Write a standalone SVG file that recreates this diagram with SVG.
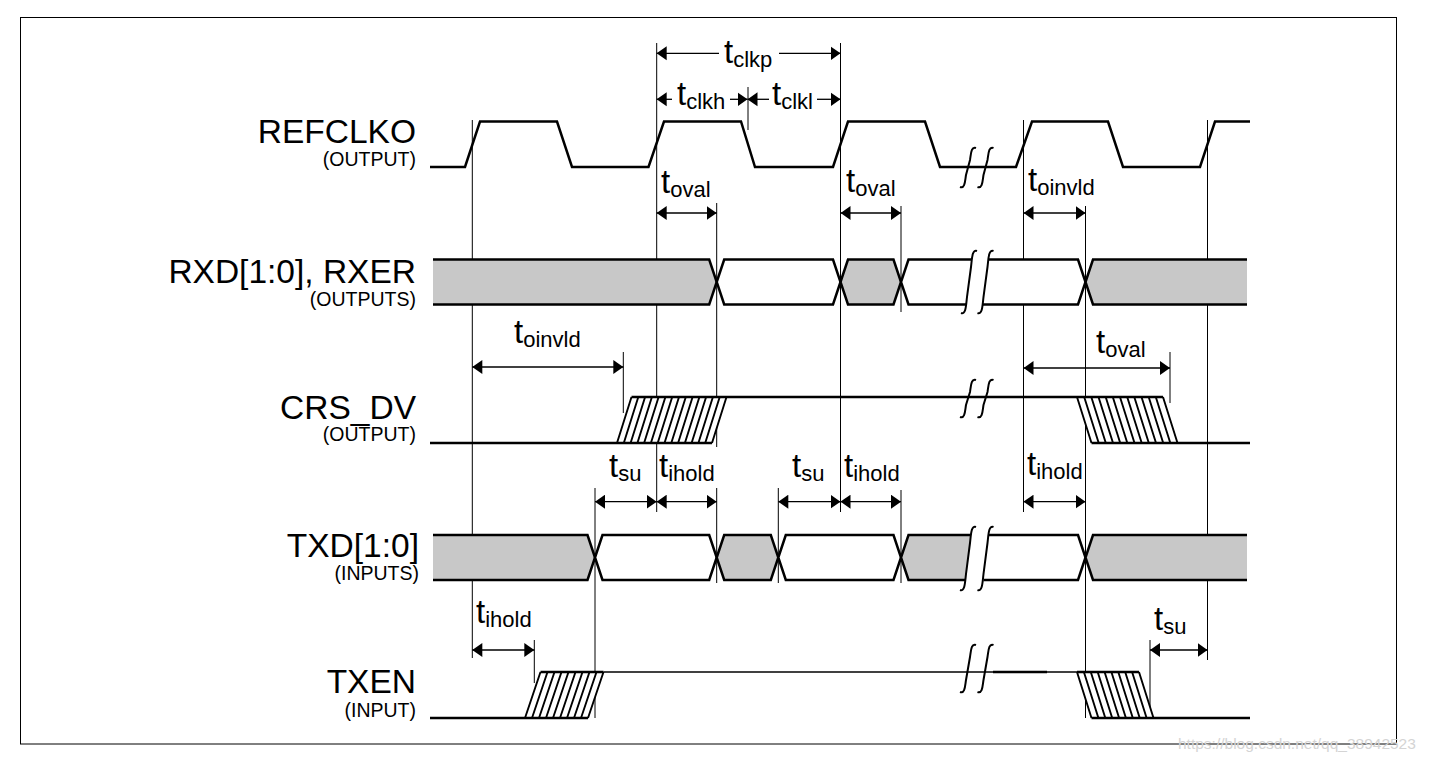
<svg xmlns="http://www.w3.org/2000/svg" width="1430" height="762" viewBox="0 0 1430 762">
<style>
text{font-family:"Liberation Sans",Arial,sans-serif;fill:#000}
.lbl{font-size:33.5px;text-anchor:end}
.dir{font-size:19.5px;text-anchor:end}
.t{font-size:33px}
.sub{font-size:22px}
.vl{stroke:#000;stroke-width:1;fill:none}
.sig{stroke:#000;stroke-width:2.5;fill:none}
.thin{stroke:#000;stroke-width:1.6;fill:none}
.brk{stroke:#000;stroke-width:2;fill:none}
.hat{stroke:#000;stroke-width:1.9;fill:none}
.bg{fill:#c8c8c8;stroke:#000;stroke-width:2.5}
.bw{fill:#fff;stroke:#000;stroke-width:2.5}
.arr{stroke:#000;stroke-width:1.3;fill:none}
.a2{stroke:#000;stroke-width:1.3;fill:none;marker-start:url(#as);marker-end:url(#ae)}
.wm{font-size:15.5px;fill:#d4d4d4}
</style>
<defs>
<marker id="ae" markerUnits="userSpaceOnUse" markerWidth="11" markerHeight="15" refX="10" refY="7" orient="auto"><path d="M0,0 L10,7 L0,14 Z" fill="#000"/></marker>
<marker id="as" markerUnits="userSpaceOnUse" markerWidth="11" markerHeight="15" refX="0" refY="7" orient="auto"><path d="M10,0 L0,7 L10,14 Z" fill="#000"/></marker>
</defs>
<rect x="0" y="0" width="1430" height="762" fill="#fff"/>
<rect id="frame" x="20.5" y="17.5" width="1376" height="726.5" fill="none" stroke="#000" stroke-width="1"/>

<g id="reference-lines">
<path class="vl" d="M472.3,120V658 M656.7,43V512 M748,87V130 M840.5,43V512 M716.7,203V447 M716.7,488V583 M901,206V312 M901,490V583 M1023.5,120V512 M1085.5,206V718 M1207.5,120V660 M595,488V718 M778.3,488V583 M623.3,352V413 M1170,352V403 M534.3,640V683 M1150,640V717"/>
</g>

<g id="refclko">
<text class="lbl" x="416" y="143">REFCLKO</text>
<text class="dir" x="416" y="166">(OUTPUT)</text>
<path class="sig" d="M430,167 H465 L480,121.5 H557 L572,167 H648.5 L664,121.5 H741 L755,167 H833 L848,121.5 H925 L940,167 H1016 L1032,121.5 H1108 L1123,167 H1200 L1215,121.5 H1250"/>
<path class="brk" d="M960,187 C965,189 965,181 966,175 L970,160 C971,154 971,146 976,148 M977.5,187 C982.5,189 982.5,181 983.5,175 L987.5,160 C988.5,154 988.5,146 993.5,148"/>
</g>

<g id="rxd">
<text class="lbl" x="416" y="283">RXD[1:0], RXER</text>
<text class="dir" x="416" y="306">(OUTPUTS)</text>
<path class="bg" d="M433,259.5 H709.2 L716.7,282 L709.2,304.5 H433"/>
<path class="bw" d="M716.7,282 L724.2,259.5 H833 L840.5,282 L833,304.5 H724.2 Z"/>
<path class="bg" d="M840.5,282 L848,259.5 H893.5 L901,282 L893.5,304.5 H848 Z"/>
<path class="bw" d="M972,259.5 H908.5 L901,282 L908.5,304.5 H966.5"/>
<path class="bw" d="M988.5,259.5 H1078 L1085.5,282 L1078,304.5 H983"/>
<path class="bg" d="M1247,259.5 H1093 L1085.5,282 L1093,304.5 H1247"/>
<path class="brk" d="M961,313 C966,315 966,305 967,297 L971,267 C972,259 972,249 977,251 M977.5,313 C982.5,315 982.5,305 983.5,297 L987.5,267 C988.5,259 988.5,249 993.5,251"/>
</g>

<g id="crs-dv">
<text class="lbl" x="416" y="419">CRS_DV</text>
<text class="dir" x="416" y="441">(OUTPUT)</text>
<polygon points="617,443 631.5,397 726.5,397 712,443" fill="#fff"/>
<polygon points="1077,397 1163,397 1177.5,443 1091.5,443" fill="#fff"/>
<path class="hat" d="M617,443L631.5,397 M623.8,443L638.3,397 M630.6,443L645.1,397 M637.4,443L651.9,397 M644.1,443L658.6,397 M650.9,443L665.4,397 M657.7,443L672.2,397 M664.5,443L679,397 M671.3,443L685.8,397 M678.1,443L692.6,397 M684.9,443L699.4,397 M691.6,443L706.1,397 M698.4,443L712.9,397 M705.2,443L719.7,397 M712,443L726.5,397"/>
<path class="hat" d="M1077,397L1091.5,443 M1084.2,397L1098.7,443 M1091.3,397L1105.8,443 M1098.5,397L1113,443 M1105.7,397L1120.2,443 M1112.8,397L1127.3,443 M1120,397L1134.5,443 M1127.2,397L1141.7,443 M1134.3,397L1148.8,443 M1141.5,397L1156,443 M1148.7,397L1163.2,443 M1155.8,397L1170.3,443 M1163,397L1177.5,443"/>
<path class="sig" d="M430,443 H712 M631.5,397 H1163 M1091.5,443 H1250"/>
<path class="brk" d="M960,417 C965,419 965,411 966,405 L970,392 C971,386 971,378 976,380 M977.5,417 C982.5,419 982.5,411 983.5,405 L987.5,392 C988.5,386 988.5,378 993.5,380"/>
</g>

<g id="txd">
<text class="lbl" x="419" y="557">TXD[1:0]</text>
<text class="dir" x="419" y="580">(INPUTS)</text>
<path class="bg" d="M433,535 H587.5 L595,557.5 L587.5,580 H433"/>
<path class="bw" d="M595,557.5 L602.5,535 H709.2 L716.7,557.5 L709.2,580 H602.5 Z"/>
<path class="bg" d="M716.7,557.5 L724.2,535 H770.8 L778.3,557.5 L770.8,580 H724.2 Z"/>
<path class="bw" d="M778.3,557.5 L785.8,535 H893.5 L901,557.5 L893.5,580 H785.8 Z"/>
<path class="bg" d="M971,535 H908.5 L901,557.5 L908.5,580 H966"/>
<path class="bw" d="M988,535 H1078 L1085.5,557.5 L1078,580 H983.5"/>
<path class="bg" d="M1247,535 H1093 L1085.5,557.5 L1093,580 H1247"/>
<path class="brk" d="M960,590 C965,592 965,582 966,574 L970,543 C971,535 971,525 976,527 M977.5,590 C982.5,592 982.5,582 983.5,574 L987.5,543 C988.5,535 988.5,525 993.5,527"/>
</g>

<g id="txen">
<text class="lbl" x="416" y="693">TXEN</text>
<text class="dir" x="416" y="717">(INPUT)</text>
<polygon points="525,718 540.5,672 603.5,672 588,718" fill="#fff"/>
<polygon points="1077,672 1139,672 1153.5,718 1091.5,718" fill="#fff"/>
<path class="hat" d="M525,718L540.5,672 M532,718L547.5,672 M539,718L554.5,672 M546,718L561.5,672 M553,718L568.5,672 M560,718L575.5,672 M567,718L582.5,672 M574,718L589.5,672 M581,718L596.5,672 M588,718L603.5,672"/>
<path class="hat" d="M1077,672L1091.5,718 M1083.9,672L1098.4,718 M1090.8,672L1105.3,718 M1097.7,672L1112.2,718 M1104.6,672L1119.1,718 M1111.4,672L1125.9,718 M1118.3,672L1132.8,718 M1125.2,672L1139.7,718 M1132.1,672L1146.6,718 M1139,672L1153.5,718"/>
<path class="thin" d="M603.5,672 H1077"/>
<path class="sig" d="M430,718 H588 M540.5,672 H603.5 M993,672 H1047 M1077,672 H1139 M1091.5,718 H1250"/>
<path class="brk" d="M960,692 C965,694 965,686 966,680 L970,657 C971,651 971,643 976,645 M977.5,692 C982.5,694 982.5,686 983.5,680 L987.5,657 C988.5,651 988.5,643 993.5,645"/>
</g>

<g id="timing-arrows">
<path class="arr" d="M656.7,53.3 H719" marker-start="url(#as)"/>
<path class="arr" d="M779,53.3 H840.5" marker-end="url(#ae)"/>
<path class="arr" d="M656.7,99.3 H672" marker-start="url(#as)"/>
<path class="arr" d="M730,99.3 H747.5" marker-end="url(#ae)"/>
<path class="arr" d="M747.5,99.3 H769" marker-start="url(#as)"/>
<path class="arr" d="M817,99.3 H840.5" marker-end="url(#ae)"/>
<path class="a2" d="M656.7,213 H716.7"/>
<path class="a2" d="M840.5,213 H901"/>
<path class="a2" d="M1023.5,213 H1085.5"/>
<path class="a2" d="M472.3,367 H623.3"/>
<path class="a2" d="M1023.5,368 H1170"/>
<path class="a2" d="M595,501.7 H656.7"/>
<path class="a2" d="M656.7,501.7 H716.7"/>
<path class="a2" d="M778.3,501.7 H840.5"/>
<path class="a2" d="M840.5,501.7 H901"/>
<path class="a2" d="M1023.5,501.7 H1085.5"/>
<path class="a2" d="M472.3,650 H534.3"/>
<path class="a2" d="M1150,650 H1207.5"/>
</g>

<g id="timing-labels">
<text class="t" x="724" y="63">t<tspan class="sub" dy="4">clkp</tspan></text>
<text class="t" x="677" y="105">t<tspan class="sub" dy="4">clkh</tspan></text>
<text class="t" x="772" y="105">t<tspan class="sub" dy="4">clkl</tspan></text>
<text class="t" x="661" y="193">t<tspan class="sub" dy="4">oval</tspan></text>
<text class="t" x="846" y="192">t<tspan class="sub" dy="4">oval</tspan></text>
<text class="t" x="1028" y="191">t<tspan class="sub" dy="4">oinvld</tspan></text>
<text class="t" x="514" y="343">t<tspan class="sub" dy="4">oinvld</tspan></text>
<text class="t" x="1096" y="353">t<tspan class="sub" dy="4">oval</tspan></text>
<text class="t" x="609" y="477">t<tspan class="sub" dy="4">su</tspan></text>
<text class="t" x="659" y="477">t<tspan class="sub" dy="4">ihold</tspan></text>
<text class="t" x="792" y="477">t<tspan class="sub" dy="4">su</tspan></text>
<text class="t" x="844" y="477">t<tspan class="sub" dy="4">ihold</tspan></text>
<text class="t" x="1027" y="475">t<tspan class="sub" dy="4">ihold</tspan></text>
<text class="t" x="476" y="623">t<tspan class="sub" dy="4">ihold</tspan></text>
<text class="t" x="1154" y="630">t<tspan class="sub" dy="4">su</tspan></text>
</g>

<text class="wm" x="1178" y="749">https://blog.csdn.net/qq_38942523</text>
</svg>
